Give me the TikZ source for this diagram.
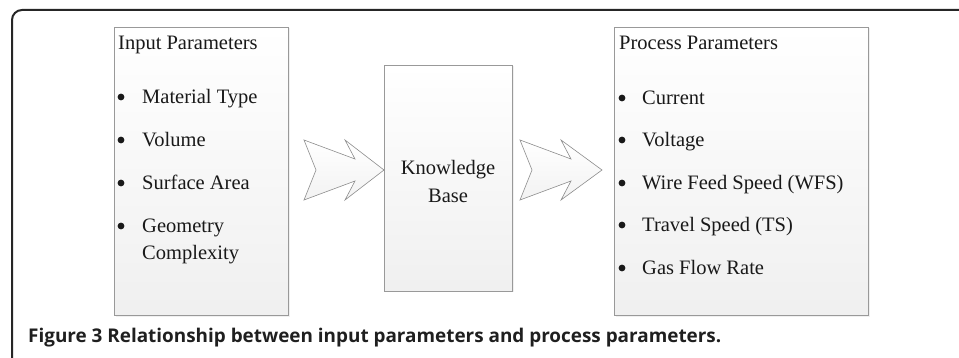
\documentclass[tikz,border=0pt]{standalone}
\usepackage{fontspec}
\setmainfont{Liberation Serif}
\newfontfamily\capfont{Open Sans}
\usetikzlibrary{shadows}

\begin{document}
\begin{tikzpicture}[x=1pt, y=-1pt,
  box/.style={draw=black!40, line width=0.7pt, top color=white, bottom color=black!6,
    inner sep=0pt, drop shadow={shadow xshift=1.5pt, shadow yshift=-1.5pt, opacity=0.12}},
  chev/.style={draw=black!45, line width=0.6pt, top color=white, bottom color=black!5},
  txt/.style={anchor=base west, inner sep=0pt, text=black!90, font=\fontsize{20.5}{24}\selectfont},
  dot/.style={fill=black!90}]
\useasboundingbox (0,0) rectangle (959,358);
% frame
\draw[line width=2pt, black!85, rounded corners=10pt] (12,358) -- (12,10) -- (960,10);
% boxes
\node[box, minimum width=174pt, minimum height=288pt] (inbox) at (201,171) {};
\node[box, minimum width=128pt, minimum height=226pt] (kbox) at (448,178) {};
\node[box, minimum width=254pt, minimum height=288pt] (outbox) at (741,171) {};
% arrows
\draw[chev, shift={(304,170)}] (0,-30) -- (51,-11) -- (41,-30) -- (80,0) -- (41,30) -- (51,11) -- (0,30) -- (12,0) -- cycle;
\draw[chev, shift={(520,170)}] (0,-30) -- (51,-11) -- (41,-30) -- (82,0) -- (41,30) -- (51,11) -- (0,30) -- (12,0) -- cycle;
% input parameters
\node[txt] (intitle) at (118,50) {Input Parameters};
\foreach \y/\t [count=\i] in {104/Material Type, 147/Volume, 190/Surface Area, 233/Geometry} {
  \fill[dot] (121,\y-7) circle (3.4pt);
  \node[txt] (in\i) at (142,\y) {\t};
}
\node[txt] (in5) at (142,260) {Complexity};
% knowledge base
\node[txt, anchor=base] (kb1) at (448,175) {Knowledge};
\node[txt, anchor=base] (kb2) at (448,203) {Base};
% process parameters
\node[txt] (outtitle) at (619,50) {Process Parameters};
\foreach \y/\t [count=\i] in {105/Current, 147/Voltage, 190/Wire Feed Speed (WFS), 232/Travel Speed (TS), 275/Gas Flow Rate} {
  \fill[dot] (622,\y-7) circle (3.4pt);
  \node[txt] (out\i) at (642,\y) {\t};
}
% caption
\node[anchor=base west, inner sep=0pt, text=black!88, font=\capfont\bfseries\fontsize{18.9}{22}\selectfont] (cap) at (28,342)
  {Figure 3 Relationship between input parameters and process parameters.};
\end{tikzpicture}
\end{document}
